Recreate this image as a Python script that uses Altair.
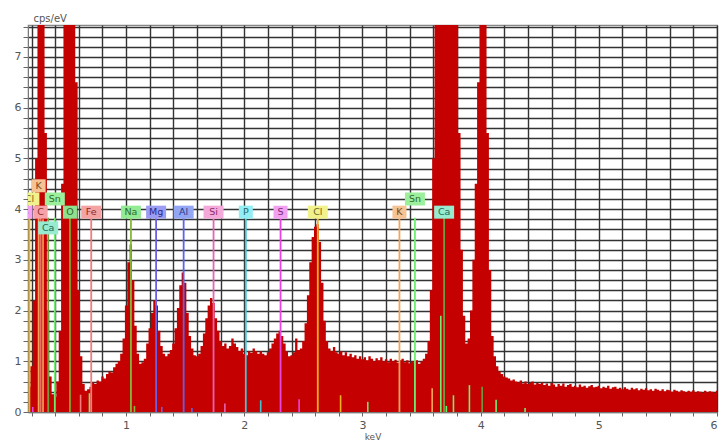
import altair as alt
import pandas as pd

# EDS spectrum, 20 eV channels starting at 0.18 keV (cps/eV)
E_START = 0.18
E_STEP = 0.02
counts = [
    # 0.18 - 0.36
    0.5, 0.9, 2.2, 5.0, 11, 15, 12, 5.5, 2.0, 0.7,
    # 0.38 - 0.56
    0.35, 0.3, 0.6, 1.6, 4.5, 10, 21, 29, 26, 15,
    # 0.58 - 0.76
    6.5, 2.4, 1.1, 0.55, 0.42, 0.45, 0.5, 0.58, 0.55, 0.62,
    # 0.78 - 0.96
    0.6, 0.7, 0.66, 0.75, 0.8, 0.78, 0.88, 0.95, 1.0, 1.15,
    # 0.98 - 1.16
    1.45, 2.1, 2.95, 3.3, 2.6, 1.7, 1.15, 0.95, 0.98, 1.05,
    # 1.18 - 1.36
    1.35, 1.65, 1.95, 2.2, 2.1, 1.6, 1.3, 1.15, 1.1, 1.15,
    # 1.38 - 1.56
    1.22, 1.35, 1.65, 2.05, 2.5, 2.75, 2.55, 1.95, 1.5, 1.25,
    # 1.58 - 1.76
    1.12, 1.1, 1.15, 1.3, 1.55, 1.85, 2.1, 2.25, 2.15, 1.85,
    # 1.78 - 1.96
    1.6, 1.4, 1.3, 1.35, 1.25, 1.3, 1.45, 1.35, 1.28, 1.2,
    # 1.98 - 2.16
    1.25, 1.15, 1.12, 1.2, 1.17, 1.25, 1.2, 1.15, 1.2, 1.15,
    # 2.18 - 2.36
    1.12, 1.18, 1.25, 1.35, 1.45, 1.55, 1.6, 1.5, 1.35, 1.2,
    # 2.38 - 2.56
    1.1, 1.12, 1.18, 1.45, 1.22, 1.25, 1.4, 1.75, 2.3, 2.95,
    # 2.58 - 2.76
    3.45, 3.65, 3.7, 3.35, 2.55, 1.8, 1.4, 1.25, 1.2, 1.28,
    # 2.78 - 2.96
    1.18, 1.15, 1.2, 1.12, 1.18, 1.1, 1.15, 1.08, 1.12, 1.05,
    # 2.98 - 3.16
    1.1, 1.04, 1.08, 1.02, 1.1, 1.05, 1.0, 1.06, 1.02, 1.08,
    # 3.18 - 3.36
    1.0, 1.04, 0.98, 1.05, 1.0, 1.03, 0.97, 1.02, 1.05, 0.98,
    # 3.38 - 3.56
    1.02, 0.96, 1.0, 0.98, 1.02, 0.95, 1.0, 1.05, 1.15, 1.4,
    # 3.58 - 3.76
    2.4, 5.0, 11, 22, 40, 55, 60, 56, 42, 26,
    # 3.78 - 3.96
    14, 8.5, 5.5, 3.2, 1.9, 1.35, 1.45, 2.0, 3.0, 4.5,
    # 3.98 - 4.16
    6.5, 9.0, 10.5, 9.5, 5.5, 2.8, 1.5, 1.1, 0.9, 0.8,
    # 4.18 - 4.36
    0.75, 0.7, 0.68, 0.66, 0.62, 0.64, 0.6, 0.58, 0.62, 0.56,
    # 4.38 - 4.56
    0.6, 0.55, 0.58, 0.6, 0.54, 0.57, 0.55, 0.58, 0.53, 0.56,
    # 4.58 - 4.76
    0.52, 0.57, 0.54, 0.5, 0.55, 0.52, 0.56, 0.5, 0.53, 0.55,
    # 4.78 - 4.96
    0.5, 0.52, 0.49, 0.54, 0.5, 0.52, 0.48, 0.51, 0.53, 0.49,
    # 4.98 - 5.16
    0.5, 0.52, 0.47, 0.5, 0.48, 0.52, 0.46, 0.49, 0.5, 0.46,
    # 5.18 - 5.36
    0.48, 0.45, 0.49, 0.46, 0.44, 0.48, 0.45, 0.47, 0.43, 0.46,
    # 5.38 - 5.56
    0.44, 0.47, 0.43, 0.45, 0.42, 0.46, 0.44, 0.42, 0.45, 0.41,
    # 5.58 - 5.76
    0.44, 0.43, 0.4, 0.44, 0.42, 0.4, 0.43, 0.41, 0.39, 0.42,
    # 5.78 - 5.96
    0.4, 0.43, 0.39, 0.41, 0.4, 0.38, 0.42, 0.39, 0.41, 0.4,
    # 5.98 - 6.00
    0.38, 0.42,
]
energies = [round(E_START + i * E_STEP, 3) for i in range(len(counts))]

# Identified element lines (labelled markers)
line_elements = ["S", "Cl", "K", "C", "Ca", "Sn", "O", "Fe", "Na", "Mg", "Al",
                 "Si", "P", "S", "Cl", "K", "Sn", "Ca"]
line_energies = [0.149, 0.182, 0.260, 0.277, 0.341, 0.397, 0.525, 0.705, 1.041,
                 1.254, 1.487, 1.740, 2.013, 2.307, 2.622, 3.313, 3.444, 3.691]
label_tiers = [0, 1, 2, 0, -1, 1, 0, 0, 0, 0, 0, 0, 0, 0, 0, 0, 1, 0]

# Secondary lines of the same elements (marker heights in cps/eV)
minor_elements = ["S", "K", "Fe", "Sn", "Na", "Mg", "Al", "Si", "P", "S", "Cl",
                  "Sn", "K", "Sn", "Sn", "Sn", "Sn", "Ca", "Sn", "Sn"]
minor_energies = [0.21, 0.297, 0.615, 0.69, 1.071, 1.302, 1.557, 1.836, 2.139,
                  2.464, 2.815, 3.045, 3.590, 3.663, 3.71, 3.77, 3.905, 4.013,
                  4.131, 4.376]
minor_heights = [0.1, 3.8, 0.34, 0.37, 0.12, 0.1, 0.08, 0.17, 0.23, 0.25, 0.33,
                 0.2, 0.47, 1.9, 0.12, 0.33, 0.53, 0.5, 0.24, 0.08]

# Marker styling per element
ELEMENTS = ["C", "O", "Fe", "Na", "Mg", "Al", "Si", "P", "S", "Cl", "K", "Sn", "Ca"]
LINE_COLOR = ["#f06a6a", "#7ea82a", "#f27c7c", "#86b83c", "#6b5fe6", "#5b63ee",
              "#e564b4", "#3fc6d6", "#e845e0", "#eeb21e", "#f3a65a", "#6fee6f", "#6f9c3e"]
BOX_COLOR = ["#f5a3a8", "#8fe08f", "#f4a2a2", "#92ea92", "#9c9cf2", "#93a6f4",
             "#f3a9da", "#93eef4", "#f2a0f0", "#f2f28c", "#f5c394", "#9cf09c", "#97ebcf"]
TEXT_COLOR = ["#8a2a2a", "#2e6a2e", "#8a2a2a", "#2e6a2e", "#2a2a8a", "#2a3a8a",
              "#8a2a6a", "#1e6a70", "#7a2a7a", "#6a6a1e", "#7a4a1e", "#2e6a2e", "#1e6a55"]

LINE_TOP = 3.83
TIER_LEVEL = {-1: 3.63, 0: 3.94, 1: 4.2, 2: 4.46}
Y_MAX = 7.63
X_MIN, X_MAX = 0.17, 6.0

spectrum = pd.DataFrame({"keV": energies, "cps": counts})
markers = pd.DataFrame({
    "element": line_elements,
    "keV": line_energies,
    "level": [TIER_LEVEL[t] for t in label_tiers],
})
minor = pd.DataFrame({"element": minor_elements, "keV": minor_energies,
                      "h": minor_heights})

x_ticks = [round(0.2 * i, 1) for i in range(1, 31)]
y_ticks = [round(0.2 * i, 1) for i in range(0, 39)]
int_label = "abs(datum.value - round(datum.value)) < 0.001 ? format(datum.value, 'd') : ''"

x_scale = alt.Scale(domain=[X_MIN, X_MAX], nice=False, zero=False)
y_scale = alt.Scale(domain=[0, Y_MAX], nice=False)

GRID_COLOR = "#333333"
GRID_WIDTH = 1.4

x_axis = alt.Axis(values=x_ticks, tickCount=200, labelExpr=int_label, title="keV",
                  titleFontSize=9, titleFontWeight="normal", titleColor="#555",
                  titleBaseline="top", titleY=20, labelFontSize=11,
                  labelColor="#555", tickSize=4, tickColor="#666",
                  domainColor="#777", gridColor=GRID_COLOR, gridWidth=GRID_WIDTH,
                  labelPadding=3, labelOverlap=False)
y_axis = alt.Axis(values=y_ticks, tickCount=200, labelExpr=int_label, title="cps/eV",
                  titleAngle=0, titleAlign="left", titleBaseline="alphabetic",
                  titleX=5, titleY=-4, titleFontSize=10, titleFontWeight="normal",
                  titleColor="#555", labelFontSize=11, labelColor="#555",
                  tickSize=5, tickColor="#666", domainColor="#777",
                  gridColor=GRID_COLOR, gridWidth=GRID_WIDTH, labelPadding=2,
                  labelOverlap=False)

area = alt.Chart(spectrum).mark_area(
    interpolate="step", color="#c40000", clip=True
).encode(
    x=alt.X("keV:Q", scale=x_scale, axis=x_axis),
    y=alt.Y("cps:Q", scale=y_scale, axis=y_axis),
)

minor_rules = alt.Chart(minor).mark_rule(strokeWidth=1.6, clip=True).encode(
    x=alt.X("keV:Q"),
    y=alt.Y("h:Q"),
    y2=alt.datum(0),
    stroke=alt.Stroke("element:N", scale=alt.Scale(domain=ELEMENTS, range=LINE_COLOR),
                      legend=None),
)

main_rules = alt.Chart(markers).mark_rule(strokeWidth=1.8, clip=True).encode(
    x=alt.X("keV:Q"),
    y=alt.datum(LINE_TOP),
    y2=alt.datum(0),
    stroke=alt.Stroke("element:N", scale=alt.Scale(domain=ELEMENTS, range=LINE_COLOR),
                      legend=None),
)

box_fill = alt.Fill("element:N", scale=alt.Scale(domain=ELEMENTS, range=BOX_COLOR),
                    legend=None)
short_boxes = alt.Chart(markers).transform_filter(
    "length(datum.element) == 1"
).mark_rect(width=14, height=13, clip=True).encode(
    x=alt.X("keV:Q"), y=alt.Y("level:Q"), fill=box_fill,
)
long_boxes = alt.Chart(markers).transform_filter(
    "length(datum.element) > 1"
).mark_rect(width=20, height=13, clip=True).encode(
    x=alt.X("keV:Q"), y=alt.Y("level:Q"), fill=box_fill,
)

labels = alt.Chart(markers).mark_text(
    font="DejaVu Sans", fontSize=9.5, baseline="middle", align="center", clip=True
).encode(
    x=alt.X("keV:Q"),
    y=alt.Y("level:Q"),
    text="element:N",
    color=alt.Color("element:N", scale=alt.Scale(domain=ELEMENTS, range=TEXT_COLOR),
                    legend=None),
)

chart = alt.layer(
    area, minor_rules, main_rules, short_boxes, long_boxes, labels
).resolve_scale(
    stroke="independent", fill="independent", color="independent"
).properties(
    width=689, height=387,
    padding={"left": 28, "top": 25, "right": 7, "bottom": 30},
    autosize=alt.AutoSizeParams(type="none"),
    background="white",
).configure_view(
    stroke="#888", strokeWidth=1.2
).configure_axis(
    labelFont="DejaVu Sans", titleFont="DejaVu Sans"
)

chart.save("out.html", embed_options={"renderer": "svg", "actions": False})
